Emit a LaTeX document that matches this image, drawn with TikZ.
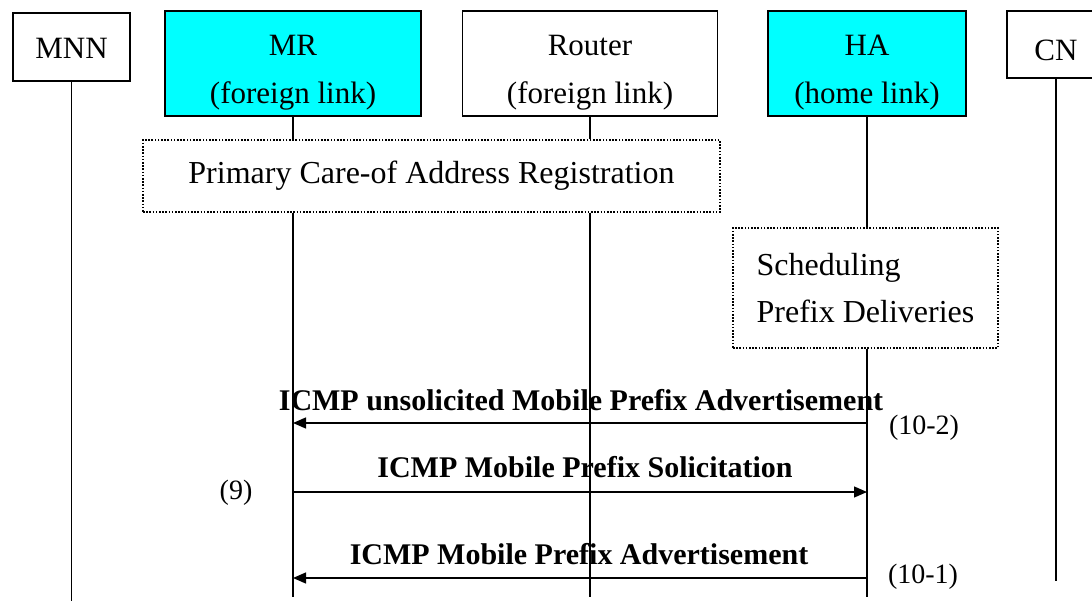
\documentclass[tikz,border=0pt]{standalone}
\usepackage{fontspec}
\setmainfont{Liberation Serif}
\usepackage{tikz}
\usetikzlibrary{positioning,calc,arrows.meta}
\definecolor{agentCyan}{RGB}{0,255,255}
\newcommand{\topgap}{\rule{0pt}{38pt}}
\tikzset{
    entity/.style={
        draw,
        line width=1.3pt,
        fill=white,
        font=\fontsize{31}{48}\selectfont,
        align=center,
        inner sep=0pt
    },
    agentColor/.style={fill=agentCyan},
    noteBox/.style={
        draw,
        line width=1.3pt,
        dash pattern=on 1.6pt off 1.6pt,
        font=\fontsize{32}{47}\selectfont,
        inner sep=0pt
    },
    lifeline/.style={line width=1.3pt},
    msg/.style={
        -{Triangle[length=13pt,width=11pt]},
        line width=1.3pt
    },
    msgLabel/.style={font=\bfseries\fontsize{30}{36}\selectfont, inner sep=0pt},
    stepLabel/.style={font=\fontsize{28}{34}\selectfont, inner sep=0pt}
}

\begin{document}
\begin{tikzpicture}[x=1pt, y=-1pt]
    \useasboundingbox (0,0) rectangle (1092,601);

    % entities
    \node[entity, minimum width=117pt, minimum height=68pt, text height=24pt, text depth=0pt] (MNN) at (71.5,47) {MNN};
    \node[entity, agentColor, minimum width=256pt, minimum height=105pt] (MR) at (293,63.5) {\topgap MR\\(foreign link)};
    \node[entity, minimum width=255pt, minimum height=105pt] (Router) at (590,63.5) {\topgap Router\\(foreign link)};
    \node[entity, agentColor, minimum width=198pt, minimum height=105pt] (HA) at (867,63.5) {\topgap HA\\(home link)};
    \node[entity, minimum width=98pt, minimum height=67pt, text height=32pt, text depth=0pt] (CN) at (1056,44.5) {CN};

    \node[noteBox, minimum width=577pt, minimum height=72pt] (CoaReg) at (431.5,176) {Primary Care-of Address Registration};
    \node[noteBox, minimum width=265pt, minimum height=120pt, align=left] (SchedBox) at (865.5,288) {Scheduling\\Prefix Deliveries};

    \coordinate (MNNend) at (MNN.south |- 0,601);
    \coordinate (MRend) at (MR.south |- 0,597);
    \coordinate (RouterEnd) at (Router.south |- 0,597);
    \coordinate (HAend) at (HA.south |- 0,597);
    \coordinate (CNend) at (CN.south |- 0,581);

    % lifelines
    \draw[lifeline] (MNN) -- (MNNend);
    \draw[lifeline] (MR) -- (CoaReg.north -| MR.south);
    \draw[lifeline] (CoaReg.south -| MR.south) -- (MRend);
    \draw[lifeline] (Router) -- (CoaReg.north -| Router.south);
    \draw[lifeline] (CoaReg.south -| Router.south) -- (RouterEnd);
    \draw[lifeline] (HA) -- (SchedBox.north -| HA.south);
    \draw[lifeline] (SchedBox.south -| HA.south) -- (HAend);
    \draw[lifeline] (CN) -- (CNend);

    % messages
    \draw[msg] (HAend |- 0,423) -- (MRend |- 0,423);
    \draw[msg] (MRend |- 0,492) -- (HAend |- 0,492);
    \draw[msg] (HAend |- 0,578) -- (MRend |- 0,578);

    \node[msgLabel, anchor=base] (UnsolAdv) at (581,410) {ICMP unsolicited Mobile Prefix Advertisement};
    \node[msgLabel, anchor=base] (PrefSol) at (585,477) {ICMP Mobile Prefix Solicitation};
    \node[msgLabel, anchor=base] (PrefAdv) at (579,564) {ICMP Mobile Prefix Advertisement};

    \node[stepLabel, anchor=base] (StepNine) at (236,499) {(9)};
    \node[stepLabel, anchor=base] (StepTenB) at (924,434) {(10-2)};
    \node[stepLabel, anchor=base] (StepTenA) at (923,583) {(10-1)};
\end{tikzpicture}
\end{document}
